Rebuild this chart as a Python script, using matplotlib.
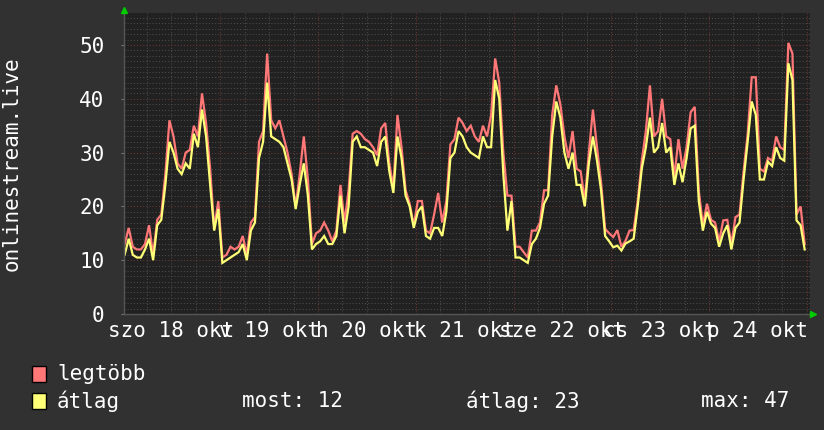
import matplotlib
matplotlib.use("Agg")
import matplotlib.pyplot as plt
import numpy as np
from matplotlib.patches import Rectangle

# ---- data (hourly, Sat 18 Oct 00:00 -> Sat 25 Oct 00:00) ----
avg_values = [
    # szo 18
    11, 14, 11, 10.5, 10.5, 12, 14, 10, 16.5, 17.5, 24, 32, 30, 27, 26, 28, 27, 33.5, 31, 38, 33, 24, 15.5, 19.5,
    # v 19
    9.5, 10, 10.5, 11, 11.5, 13, 10, 15.5, 17, 29, 32, 43, 33, 32.5, 32, 31, 28, 25, 19.5, 24, 28, 22, 12, 13,
    # h 20
    13.5, 14.5, 13, 13, 14.5, 22, 15, 20, 32, 33, 31, 31, 30.5, 30, 27.5, 32, 33, 26.5, 22.5, 33, 29, 22, 20, 16,
    # k 21
    19, 20, 14.5, 14, 16, 16, 14.5, 19, 29, 30, 34, 33, 31, 30, 29.5, 29, 33, 31, 31, 43.5, 40, 26, 15.5, 21,
    # sze 22
    10.5, 10.5, 10, 9.5, 13, 14, 16, 20.5, 22, 33, 39.5, 36.5, 30, 27, 30, 24, 24, 20, 28, 33, 28.5, 23, 14.5, 13.5,
    # cs 23
    12.4, 12.7, 11.8, 13.1, 13.5, 14, 20, 27, 31, 36.5, 30, 31, 35.5, 30, 31, 24, 28, 24.5, 29, 34.5, 35, 21, 15.5, 19,
    # p 24
    16.8, 16, 12.5, 15, 16.5, 12, 16, 17, 25, 32, 39.5, 37, 25, 25, 28.3, 27.5, 31, 29, 28.5, 46.6, 43.5, 17.4, 16.5, 12,
]
max_values = [
    13, 16, 12.5, 12, 12, 13, 16.5, 11, 17.5, 18.5, 26, 36, 33, 28, 27, 30, 30.5, 35, 33, 41, 35.5, 27, 16, 21,
    10.5, 11, 12.5, 12, 12.5, 14.5, 11, 17, 18, 32, 34, 48.4, 36, 34.5, 36, 33, 30, 26, 20, 26, 33, 25, 13, 15,
    15.5, 17, 15.5, 13.5, 15.5, 24, 17, 23, 33.5, 34, 33.5, 32.5, 32, 31, 29.5, 34.5, 35.5, 28, 23.5, 37, 31, 23, 20.5, 16.5,
    21, 21, 15.5, 15, 18.5, 22.5, 17, 21, 31.5, 32.5, 36.5, 35.5, 34, 35, 33, 32, 35, 33, 37, 47.5, 43, 30, 22, 22,
    12.5, 12.5, 11.5, 10.5, 15.5, 15.5, 17, 23, 23, 37, 42.5, 39, 33, 29, 34, 27, 26.5, 21, 30, 38, 31, 24.5, 15.8, 15,
    14.3, 15.6, 12.5, 13.6, 15.5, 15.6, 21, 28.5, 34, 42.5, 33, 34, 40, 33, 32.5, 25.5, 32.5, 27, 31, 37.5, 38.5, 23, 16.5, 20.5,
    17.5, 17, 13.5, 17.4, 17.5, 13, 18, 18.5, 26.5, 33.5, 44, 44, 27, 26.5, 29, 28.5, 33, 31, 30.5, 50.4, 48.4, 18.5, 20, 13,
]
day_labels = ["szo 18 okt", "v 19 okt", "h 20 okt", "k 21 okt",
              "sze 22 okt", "cs 23 okt", "p 24 okt"]
y_ticks = [0, 10, 20, 30, 40, 50]
y_title = "onlinestream.live"
series_names = ["legtöbb", "átlag"]
stat_labels = ["most: 12", "átlag: 23", "max: 47"]

# ---- style ----
W, H = 824, 430
FONT = "DejaVu Sans Mono"
FS = 15
BG = "#313131"
CANVAS = "#212121"
RED = "#ff7777"
YEL = "#ffff77"
plt.rcParams["font.family"] = FONT

fig = plt.figure(figsize=(W / 100, H / 100), dpi=100, facecolor=BG)

PX_PER_H = 4.072
T0_PX = 122.6
left_px, right_px, top_px, bottom_px = 124, 810, 13, 314
PX_PER_UNIT = 5.38

ax = fig.add_axes([left_px / W, 1 - bottom_px / H,
                   (right_px - left_px) / W, (bottom_px - top_px) / H])
ax.set_facecolor(CANVAS)
xmin = (left_px - T0_PX) / PX_PER_H
xmax = (right_px - T0_PX) / PX_PER_H
ymax = (bottom_px - top_px) / PX_PER_UNIT
ax.set_xlim(xmin, xmax)
ax.set_ylim(0, ymax)

# grid
MINOR = "#4c4c4c"
MAJOR = "#6e3636"
for v in range(1, int(ymax) + 1):
    if v % 10:
        ax.axhline(v, color=MINOR, lw=0.75, ls=(0, (1, 2)), zorder=1)
for v in y_ticks[1:]:
    ax.axhline(v, color=MAJOR, lw=0.75, ls=(0, (1, 2)), zorder=1.5)
n_hours = len(avg_values)
for h in range(6, n_hours + 1, 6):
    if h % 24:
        ax.axvline(h, color=MINOR, lw=0.75, ls=(0, (1, 2)), zorder=1)
    else:
        ax.axvline(h, color=MAJOR, lw=0.75, ls=(0, (1, 2)), zorder=1.5)

# series (points at the middle of each hour)
t = np.arange(n_hours) + 0.5
ax.plot(t, max_values, color=RED, lw=1.6, zorder=3, solid_joinstyle="miter")
ax.plot(t, avg_values, color=YEL, lw=1.6, zorder=4, solid_joinstyle="miter")

# axes / spines
for s in ax.spines.values():
    s.set_visible(False)
ax.plot([0, 1], [0, 0], transform=ax.transAxes, color="#555555", lw=1, zorder=5, clip_on=False)
ax.plot([0, 0], [0, 1], transform=ax.transAxes, color="#555555", lw=1, zorder=5, clip_on=False)
ax.plot([1.004], [0], marker=">", color="#00cc00", ms=5, transform=ax.transAxes, clip_on=False, zorder=6)
ax.plot([0], [1.01], marker="^", color="#00cc00", ms=5, transform=ax.transAxes, clip_on=False, zorder=6)

ax.set_yticks(y_ticks)
ax.set_yticklabels([str(v) for v in y_ticks])
ax.tick_params(axis="y", length=2, color="#777777", pad=12, labelsize=FS, labelcolor="white")
noon = [12 + 24 * i for i in range(len(day_labels))]
ax.set_xticks(noon)
ax.set_xticklabels(day_labels)
ax.tick_params(axis="x", length=0, pad=5, labelsize=FS, labelcolor="white")

fig.text(12 / W, 1 - 164 / H, y_title, rotation=90, ha="center", va="center",
         color="white", fontsize=FS)

# legend
def px(x, y):
    return x / W, 1 - y / H

for i, (name, col) in enumerate(zip(series_names, [RED, YEL])):
    yc = 374 + 27 * i
    x0, y0 = px(32, yc + 8)
    fig.patches.append(Rectangle((x0, y0), 14 / W, 16 / H, transform=fig.transFigure,
                                 facecolor=col, edgecolor="black", lw=1))
    fig.text(*px(57, yc), name, ha="left", va="center", color="white", fontsize=FS)

for xs, lab in zip([242, 466, 701], stat_labels):
    fig.text(*px(xs, 401), lab, ha="left", va="center", color="white", fontsize=FS)

fig.savefig("out.png", dpi=100, facecolor=BG)
